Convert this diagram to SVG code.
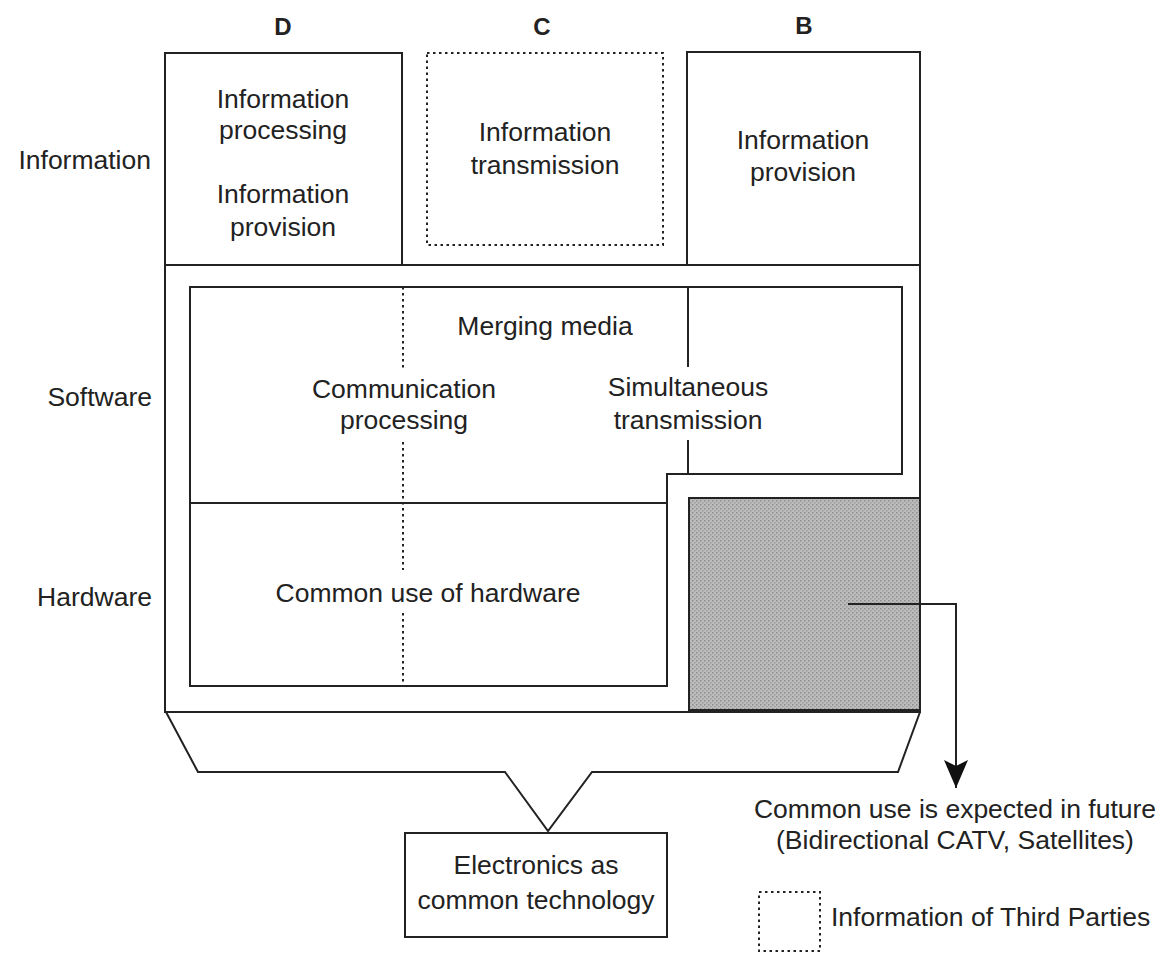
<svg xmlns="http://www.w3.org/2000/svg" width="1165" height="953" viewBox="0 0 1165 953">
<style>
  text { font-family: "Liberation Sans", Arial, sans-serif; font-size: 26.5px; fill: #222; text-anchor: middle; }
  .hdr { font-weight: bold; font-size: 24px; }
  .row { text-anchor: end; }
  .solid { fill: none; stroke: #222; stroke-width: 2; }
  .dot { fill: none; stroke: #222; stroke-width: 2; stroke-dasharray: 2.5 3.5; }
</style>
<defs>
  <pattern id="grain" width="4" height="4" patternUnits="userSpaceOnUse">
    <rect width="4" height="4" fill="#bcbcbc"/>
    <rect x="0" y="0" width="1.5" height="1.5" fill="#8c8c8c"/>
    <rect x="2" y="2" width="1.5" height="1.5" fill="#9c9c9c"/>
  </pattern>
  <marker id="arrow" markerWidth="30" markerHeight="24" refX="28" refY="12" orient="auto" markerUnits="userSpaceOnUse" viewBox="0 0 30 24">
    <path d="M0,0 L28,12 L0,24 L6,12 Z" fill="#111"/>
  </marker>
</defs>
<rect width="1165" height="953" fill="#fff"/>

<g id="headers">
  <text class="hdr" x="283" y="35">D</text>
  <text class="hdr" x="542" y="35">C</text>
  <text class="hdr" x="804" y="34">B</text>
</g>
<g id="row-labels">
  <text class="row" x="151" y="169">Information</text>
  <text class="row" x="152" y="406">Software</text>
  <text class="row" x="152" y="606">Hardware</text>
</g>

<g id="frame">
  <path class="solid" d="M165,53 V712 H920 V52"/>
  <line class="solid" x1="165" y1="265" x2="920" y2="265"/>
</g>

<g id="node-D">
  <rect class="solid" x="165" y="53" width="237" height="212"/>
  <text x="283" y="108">Information</text>
  <text x="283" y="139">processing</text>
  <text x="283" y="203">Information</text>
  <text x="283" y="236">provision</text>
</g>
<g id="node-C">
  <rect class="dot" x="427" y="53" width="236" height="192"/>
  <text x="545" y="141">Information</text>
  <text x="545" y="174">transmission</text>
</g>
<g id="node-B">
  <rect class="solid" x="687" y="52" width="233" height="213"/>
  <text x="803" y="149">Information</text>
  <text x="803" y="181">provision</text>
</g>

<g id="node-software-hardware">
  <path class="solid" d="M190,287 H902 V474 H667 V686 H190 Z"/>
  <line class="solid" x1="190" y1="503" x2="667" y2="503"/>
  <line class="solid" x1="688" y1="287" x2="688" y2="367"/>
  <line class="solid" x1="688" y1="440" x2="688" y2="474"/>
  <line class="dot" x1="403" y1="287" x2="403" y2="370"/>
  <line class="dot" x1="403" y1="442" x2="403" y2="570"/>
  <line class="dot" x1="403" y1="613" x2="403" y2="686"/>
  <text x="545" y="335">Merging media</text>
  <text x="404" y="398">Communication</text>
  <text x="404" y="429">processing</text>
  <text x="688" y="396">Simultaneous</text>
  <text x="688" y="429">transmission</text>
  <text x="428" y="602">Common use of hardware</text>
</g>

<g id="node-shaded">
  <rect x="689" y="498" width="231" height="212" fill="url(#grain)" stroke="#222" stroke-width="2"/>
</g>

<g id="funnel">
  <path class="solid" d="M166,712 L198,772 H505 L548,831 L592,772 H898 L920,712"/>
</g>

<g id="node-electronics">
  <rect class="solid" x="405" y="833" width="262" height="104"/>
  <text x="536" y="874">Electronics as</text>
  <text x="536" y="909">common technology</text>
</g>

<g id="connectors">
  <path class="solid" d="M848,604 H956 V788" marker-end="url(#arrow)"/>
</g>

<g id="future-note">
  <text x="955" y="818">Common use is expected in future</text>
  <text x="955" y="849">(Bidirectional CATV, Satellites)</text>
</g>

<g id="legend">
  <rect class="dot" x="759" y="892" width="61" height="59"/>
  <text x="831" y="926" style="text-anchor:start">Information of Third Parties</text>
</g>
</svg>
